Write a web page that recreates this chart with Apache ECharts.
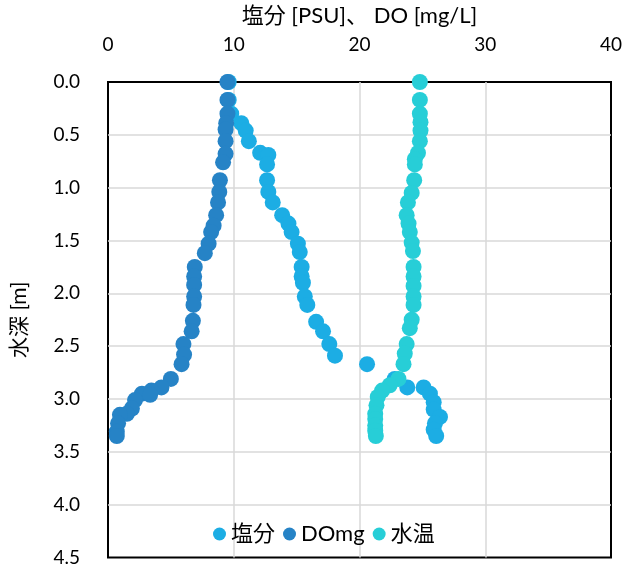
<!DOCTYPE html>
<html>
<head>
<meta charset="utf-8">
<script src="https://cdn.jsdelivr.net/npm/echarts@6/dist/echarts.min.js"></script>
<style>
  html, body { margin: 0; padding: 0; background: #fff; }
  #chart { width: 629px; height: 567px; }
</style>
</head>
<body>
<div id="chart"></div>
<script>
// 塩分 (salinity) profile
var salDepth = [0.00, 0.17, 0.30, 0.39, 0.46, 0.56, 0.67, 0.69, 0.78, 0.93, 1.04, 1.14, 1.26, 1.34, 1.42, 1.53, 1.61, 1.75, 1.84, 1.90, 2.03, 2.11, 2.27, 2.36, 2.48, 2.59, 2.67, 2.81, 2.89, 2.89, 2.95, 3.03, 3.10, 3.17, 3.23, 3.29, 3.35];
var salinity = [9.6, 9.6, 9.8, 10.6, 10.95, 11.2, 12.1, 12.75, 12.65, 12.65, 12.75, 13.1, 13.85, 14.35, 14.6, 15.1, 15.25, 15.4, 15.4, 15.5, 15.65, 15.85, 16.55, 17.1, 17.6, 18.05, 20.6, 22.8, 23.8, 25.1, 25.6, 25.9, 25.9, 26.4, 26.0, 25.9, 26.1];

// DOmg profile
var doDepth = [0.00, 0.17, 0.30, 0.39, 0.45, 0.56, 0.68, 0.76, 0.93, 1.04, 1.14, 1.26, 1.36, 1.42, 1.53, 1.62, 1.75, 1.84, 1.92, 2.03, 2.11, 2.26, 2.36, 2.48, 2.58, 2.67, 2.81, 2.89, 2.92, 2.95, 2.96, 3.01, 3.09, 3.14, 3.15, 3.23, 3.31, 3.35];
var doMg = [9.5, 9.5, 9.5, 9.4, 9.35, 9.35, 9.35, 9.15, 8.9, 8.85, 8.75, 8.6, 8.4, 8.2, 8.0, 7.7, 6.9, 6.85, 6.85, 6.85, 6.8, 6.75, 6.65, 6.0, 6.05, 5.85, 5.0, 4.25, 3.45, 2.7, 3.35, 2.15, 1.9, 1.5, 0.95, 0.8, 0.7, 0.7];

// 水温 (water temperature) profile
var tempDepth = [0.00, 0.17, 0.30, 0.38, 0.46, 0.56, 0.67, 0.73, 0.78, 0.93, 1.05, 1.14, 1.26, 1.34, 1.42, 1.52, 1.60, 1.75, 1.84, 1.93, 2.03, 2.11, 2.25, 2.33, 2.48, 2.57, 2.67, 2.81, 2.87, 2.92, 2.98, 3.06, 3.14, 3.19, 3.25, 3.30, 3.35];
var waterTemp = [24.8, 24.8, 24.8, 24.85, 24.85, 24.8, 24.65, 24.4, 24.4, 24.35, 24.15, 23.85, 23.75, 23.9, 24.0, 24.15, 24.25, 24.3, 24.3, 24.3, 24.3, 24.3, 24.15, 24.0, 23.75, 23.6, 23.5, 23.1, 22.4, 21.8, 21.45, 21.35, 21.25, 21.25, 21.25, 21.25, 21.3];

var seriesNames = ['塩分', 'DOmg', '水温'];
var xTicks = [0, 10, 20, 30, 40];

function pairs(xs, ys) {
    var out = [];
    for (var i = 0; i < xs.length; i++) {
        out.push([xs[i], ys[i]]);
    }
    return out;
}

var font = 'Lato, "Noto Sans CJK JP", sans-serif';
var chart = echarts.init(document.getElementById('chart'));

var gridLine = {
    showMinLine: false,
    showMaxLine: false,
    lineStyle: {color: '#d9d9d9', width: 1.5}
};

var option = {
    animation: false,
    color: ['#1CADE4', '#2683C6', '#27CED7'],
    textStyle: {fontFamily: font},
    grid: {
        left: 108,
        right: 18,
        top: 82,
        bottom: 5,
        show: true,
        borderColor: '#000',
        borderWidth: 2
    },
    legend: {
        data: seriesNames,
        left: 208,
        top: 518,
        icon: 'circle',
        itemWidth: 13,
        itemHeight: 13,
        itemGap: 8,
        textStyle: {fontSize: 22, color: '#000', fontFamily: font}
    },
    xAxis: {
        type: 'value',
        position: 'top',
        min: xTicks[0],
        max: xTicks[xTicks.length - 1],
        interval: 10,
        name: '塩分 [PSU]、 DO [mg/L]',
        nameLocation: 'middle',
        nameGap: 55,
        nameTextStyle: {fontSize: 22, color: '#000', fontFamily: font},
        axisLine: {show: false},
        axisTick: {show: false},
        axisLabel: {fontSize: 19, color: '#000', margin: 28, fontFamily: font},
        splitLine: gridLine
    },
    yAxis: {
        type: 'value',
        inverse: true,
        min: 0,
        max: 4.5,
        interval: 0.5,
        name: '水深 [m]',
        nameLocation: 'middle',
        nameGap: 78,
        nameTextStyle: {fontSize: 21, color: '#000', fontFamily: font},
        axisLine: {show: false},
        axisTick: {show: false},
        axisLabel: {
            fontSize: 19, color: '#000', margin: 28, fontFamily: font,
            formatter: function (v) { return v.toFixed(1); }
        },
        splitLine: gridLine
    },
    series: [{
        name: seriesNames[0],
        type: 'scatter',
        symbolSize: 16,
        itemStyle: {opacity: 1},
        data: pairs(salinity, salDepth)
    }, {
        name: seriesNames[1],
        type: 'scatter',
        symbolSize: 16,
        itemStyle: {opacity: 1},
        data: pairs(doMg, doDepth)
    }, {
        name: seriesNames[2],
        type: 'scatter',
        symbolSize: 16,
        itemStyle: {opacity: 1},
        data: pairs(waterTemp, tempDepth)
    }]
};

chart.setOption(option);
</script>
</body>
</html>
